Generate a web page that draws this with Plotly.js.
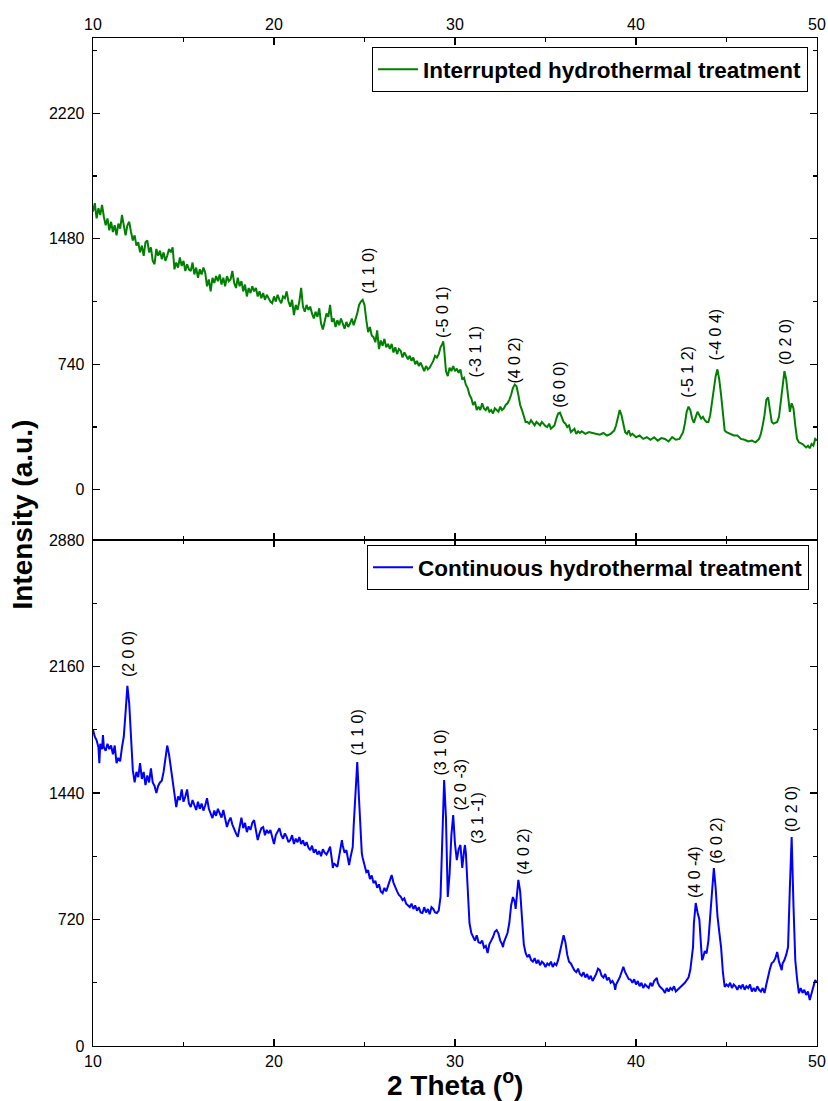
<!DOCTYPE html>
<html>
<head>
<meta charset="utf-8">
<script src="https://cdn.plot.ly/plotly-3.0.1.min.js"></script>
<style>html,body{margin:0;padding:0;background:#fff;}#chart{width:828px;height:1101px;}</style>
</head>
<body>
<div id="chart"></div>
<script>
// ---------- DATA (2 Theta in degrees, intensity in a.u.) ----------
const interruptedName = "Interrupted hydrothermal treatment";
const continuousName = "Continuous hydrothermal treatment";

const interruptedData = [
[10.0,1640],[10.1,1690],[10.2,1600],[10.3,1660],[10.4,1620],[10.5,1680],[10.6,1610],[10.7,1560],[10.8,1600],[10.9,1530],
[11.0,1580],[11.1,1520],[11.2,1560],[11.3,1500],[11.4,1570],[11.5,1540],[11.6,1620],[11.7,1550],[11.8,1500],[11.9,1560],
[12.0,1580],[12.1,1520],[12.2,1470],[12.3,1500],[12.4,1440],[12.5,1460],[12.6,1400],[12.7,1440],[12.8,1380],[12.9,1460],
[13.0,1470],[13.1,1400],[13.2,1430],[13.3,1350],[13.4,1330],[13.5,1420],[13.6,1380],[13.7,1410],[13.8,1360],[13.9,1400],
[14.0,1350],[14.1,1380],[14.2,1420],[14.3,1400],[14.4,1430],[14.5,1300],[14.6,1340],[14.7,1310],[14.8,1370],[14.9,1320],
[15.0,1350],[15.1,1290],[15.2,1330],[15.3,1300],[15.4,1290],[15.5,1340],[15.6,1270],[15.7,1310],[15.8,1250],[15.9,1300],
[16.0,1270],[16.1,1310],[16.2,1280],[16.3,1200],[16.4,1240],[16.5,1170],[16.6,1250],[16.7,1220],[16.8,1260],[16.9,1230],
[17.0,1270],[17.1,1210],[17.2,1250],[17.3,1200],[17.4,1260],[17.5,1230],[17.6,1240],[17.7,1290],[17.8,1220],[17.9,1190],
[18.0,1250],[18.1,1200],[18.2,1230],[18.3,1170],[18.4,1210],[18.5,1140],[18.6,1190],[18.7,1160],[18.8,1200],[18.9,1170],
[19.0,1190],[19.1,1140],[19.2,1170],[19.3,1130],[19.4,1160],[19.5,1120],[19.6,1150],[19.7,1130],[19.8,1110],[19.9,1100],
[20.0,1140],[20.1,1110],[20.2,1150],[20.3,1120],[20.4,1100],[20.5,1140],[20.6,1130],[20.7,1170],[20.8,1110],[20.9,1080],
[21.0,1120],[21.1,1030],[21.2,1090],[21.3,1060],[21.4,1110],[21.5,1190],[21.6,1080],[21.7,1050],[21.8,1090],[21.9,1060],
[22.0,1080],[22.1,1040],[22.2,1010],[22.3,1050],[22.4,1020],[22.5,1070],[22.6,980],[22.7,945],[22.8,1000],[22.9,1040],
[23.0,1020],[23.1,1090],[23.2,990],[23.3,1010],[23.4,960],[23.5,1000],[23.6,970],[23.7,1010],[23.8,980],[23.9,950],
[24.0,990],[24.1,960],[24.2,980],[24.3,1010],[24.4,970],[24.5,1000],[24.6,1040],[24.7,1090],[24.8,1110],[24.9,1120],
[25.0,1090],[25.1,1000],[25.2,930],[25.3,960],[25.4,910],[25.5,900],[25.6,870],[25.7,940],[25.8,830],[25.9,880],
[26.0,850],[26.1,890],[26.2,840],[26.3,860],[26.4,830],[26.5,860],[26.6,810],[26.7,840],[26.8,800],[26.9,830],
[27.0,820],[27.1,780],[27.2,810],[27.3,790],[27.4,770],[27.5,790],[27.6,760],[27.7,780],[27.8,740],[27.9,760],
[28.0,730],[28.1,750],[28.2,720],[28.3,700],[28.4,730],[28.5,710],[28.6,720],[28.7,740],[28.8,760],[28.9,790],
[29.0,780],[29.1,800],[29.2,840],[29.3,860],[29.35,875],[29.4,830],[29.5,700],[29.6,670],[29.7,720],[29.8,700],[29.9,730],
[30.0,700],[30.1,715],[30.2,690],[30.3,710],[30.4,650],[30.5,660],[30.6,620],[30.7,600],[30.8,560],[30.9,540],
[31.0,500],[31.1,520],[31.2,470],[31.3,490],[31.4,470],[31.5,510],[31.6,480],[31.7,470],[31.8,490],[31.9,460],
[32.0,470],[32.1,450],[32.2,480],[32.3,470],[32.4,460],[32.5,490],[32.6,470],[32.7,480],[32.8,500],[32.9,510],
[33.0,530],[33.1,560],[33.2,600],[33.3,620],[33.4,610],[33.5,560],[33.6,500],[33.7,470],[33.8,430],[33.9,400],
[34.0,400],[34.1,390],[34.2,410],[34.3,395],[34.4,380],[34.5,400],[34.6,390],[34.7,380],[34.8,400],[34.9,385],
[35.0,375],[35.1,370],[35.2,390],[35.3,360],[35.4,370],[35.5,380],[35.6,420],[35.7,450],[35.8,455],[35.9,430],
[36.0,400],[36.1,390],[36.2,370],[36.3,380],[36.4,340],[36.5,350],[36.6,360],[36.7,330],[36.8,345],[36.9,335],
[37.0,345],[37.2,330],[37.4,340],[37.6,335],[37.8,330],[38.0,325],[38.2,335],[38.4,320],[38.6,330],[38.8,350],
[38.9,380],[39.0,430],[39.1,470],[39.2,440],[39.3,380],[39.4,340],[39.5,330],[39.6,350],[39.7,320],[39.8,330],
[40.0,310],[40.2,320],[40.4,300],[40.6,310],[40.8,295],[41.0,310],[41.2,290],[41.4,305],[41.6,300],[41.8,285],
[42.0,310],[42.2,295],[42.4,300],[42.5,320],[42.6,340],[42.7,390],[42.8,460],[42.9,490],[43.0,470],[43.1,420],
[43.2,395],[43.3,430],[43.4,460],[43.5,440],[43.6,420],[43.7,430],[43.8,410],[43.9,400],[44.0,400],[44.1,440],
[44.2,510],[44.3,580],[44.4,670],[44.5,710],[44.6,650],[44.7,560],[44.8,430],[44.9,350],[45.0,340],[45.2,330],
[45.4,320],[45.6,320],[45.8,300],[46.0,295],[46.2,285],[46.4,290],[46.6,280],[46.8,300],[46.9,330],[47.0,380],
[47.1,440],[47.2,530],[47.3,545],[47.4,470],[47.5,400],[47.6,390],[47.7,395],[47.8,400],[47.9,430],[48.0,520],
[48.1,640],[48.2,700],[48.3,650],[48.4,540],[48.5,460],[48.6,510],[48.7,480],[48.8,380],[48.9,300],[49.0,280],
[49.2,270],[49.4,250],[49.5,260],[49.6,245],[49.7,270],[49.8,260],[49.9,300],[50.0,290]
];

const continuousData = [
[10.0,1800],[10.1,1760],[10.2,1740],[10.3,1700],[10.35,1610],[10.4,1720],[10.5,1690],[10.55,1770],[10.6,1700],[10.7,1680],
[10.8,1720],[10.9,1690],[11.0,1710],[11.1,1660],[11.2,1710],[11.3,1610],[11.4,1640],[11.5,1620],[11.6,1700],[11.7,1760],
[11.8,1900],[11.9,2050],[12.0,1950],[12.1,1720],[12.2,1570],[12.3,1500],[12.4,1560],[12.5,1530],[12.6,1610],[12.7,1520],
[12.8,1560],[12.9,1485],[13.0,1540],[13.1,1500],[13.2,1580],[13.3,1500],[13.4,1480],[13.5,1440],[13.6,1480],[13.7,1500],
[13.8,1510],[13.9,1560],[14.0,1640],[14.1,1710],[14.2,1660],[14.3,1580],[14.4,1500],[14.5,1445],[14.6,1360],[14.7,1420],
[14.8,1400],[14.9,1460],[15.0,1390],[15.1,1420],[15.2,1460],[15.3,1380],[15.4,1360],[15.5,1400],[15.6,1370],[15.7,1343],
[15.8,1390],[15.9,1350],[16.0,1380],[16.1,1340],[16.2,1370],[16.3,1410],[16.4,1350],[16.5,1320],[16.6,1297],[16.7,1340],
[16.8,1310],[16.9,1350],[17.0,1320],[17.1,1300],[17.2,1343],[17.3,1290],[17.4,1246],[17.5,1280],[17.6,1300],[17.7,1260],
[17.8,1230],[17.9,1210],[18.0,1190],[18.1,1250],[18.2,1300],[18.3,1240],[18.4,1270],[18.5,1217],[18.6,1250],[18.7,1230],
[18.8,1270],[18.9,1286],[19.0,1220],[19.1,1172],[19.2,1210],[19.3,1240],[19.4,1246],[19.5,1200],[19.6,1230],[19.7,1210],
[19.8,1230],[19.9,1190],[20.0,1150],[20.1,1200],[20.2,1220],[20.3,1240],[20.4,1200],[20.5,1180],[20.6,1210],[20.7,1190],
[20.8,1160],[20.9,1172],[21.0,1200],[21.1,1150],[21.2,1180],[21.3,1160],[21.4,1189],[21.5,1150],[21.6,1170],[21.7,1140],
[21.8,1160],[21.9,1130],[22.0,1115],[22.1,1140],[22.2,1100],[22.3,1120],[22.4,1090],[22.5,1110],[22.6,1080],[22.7,1120],
[22.8,1100],[22.9,1090],[23.0,1110],[23.1,1135],[23.2,1060],[23.25,1013],[23.3,1040],[23.4,1030],[23.5,1020],[23.6,1080],
[23.7,1130],[23.75,1172],[23.8,1140],[23.9,1100],[24.0,1115],[24.1,1060],[24.15,1030],[24.2,1060],[24.3,1100],[24.35,1133],
[24.4,1250],[24.5,1480],[24.6,1616],[24.7,1400],[24.8,1150],[24.85,1098],[24.9,1070],[25.0,1020],[25.1,990],[25.2,1000],
[25.3,950],[25.4,970],[25.5,927],[25.6,940],[25.7,900],[25.8,920],[25.9,880],[26.0,870],[26.1,900],[26.2,880],
[26.3,910],[26.4,950],[26.5,973],[26.6,930],[26.7,900],[26.8,880],[26.9,860],[27.0,850],[27.1,830],[27.2,840],
[27.3,810],[27.4,800],[27.5,791],[27.6,810],[27.7,780],[27.8,800],[27.9,770],[28.0,790],[28.1,760],[28.2,757],
[28.3,790],[28.4,760],[28.5,780],[28.6,750],[28.7,790],[28.8,780],[28.9,760],[29.0,757],[29.1,770],[29.2,848],
[29.3,1200],[29.4,1514],[29.5,1300],[29.6,848],[29.7,980],[29.8,1200],[29.9,1314],[30.0,1150],[30.1,1058],[30.2,1120],
[30.3,1144],[30.4,1013],[30.5,1110],[30.55,1144],[30.6,1100],[30.7,870],[30.8,700],[30.9,643],[31.0,620],[31.1,600],
[31.2,630],[31.3,590],[31.4,586],[31.5,600],[31.6,560],[31.7,570],[31.8,529],[31.9,580],[32.0,600],[32.1,620],
[32.2,650],[32.3,660],[32.4,640],[32.5,600],[32.6,580],[32.65,563],[32.7,590],[32.8,620],[32.9,643],[33.0,700],
[33.1,800],[33.2,848],[33.3,820],[33.35,780],[33.4,850],[33.5,945],[33.6,880],[33.7,700],[33.75,643],[33.8,580],
[33.9,530],[34.0,506],[34.1,520],[34.2,490],[34.3,480],[34.4,500],[34.5,470],[34.6,490],[34.7,460],[34.8,480],
[34.9,470],[35.0,450],[35.1,470],[35.2,460],[35.3,480],[35.4,450],[35.5,470],[35.6,460],[35.7,490],[35.8,540],
[35.9,600],[36.0,630],[36.1,590],[36.2,520],[36.3,480],[36.4,470],[36.5,450],[36.6,430],[36.7,420],[36.8,440],
[36.9,410],[37.0,400],[37.1,420],[37.2,390],[37.3,410],[37.4,380],[37.5,400],[37.6,370],[37.7,390],[37.8,410],
[37.9,440],[38.0,432],[38.1,400],[38.2,390],[38.3,410],[38.4,375],[38.5,390],[38.6,360],[38.7,370],[38.8,350],
[38.85,319],[38.9,350],[39.0,370],[39.1,390],[39.2,420],[39.3,450],[39.4,420],[39.5,400],[39.6,380],[39.7,378],
[39.8,360],[39.9,380],[40.0,350],[40.1,370],[40.2,340],[40.3,360],[40.4,330],[40.5,350],[40.6,340],[40.7,330],
[40.8,360],[40.9,340],[41.0,370],[41.1,380],[41.15,387],[41.2,360],[41.3,340],[41.4,330],[41.5,320],[41.6,302],
[41.7,330],[41.8,310],[41.9,330],[42.0,320],[42.1,340],[42.2,310],[42.3,319],[42.4,330],[42.5,340],[42.6,350],
[42.7,360],[42.8,375],[42.9,390],[43.0,432],[43.1,520],[43.15,563],[43.2,700],[43.3,814],[43.4,760],[43.5,720],
[43.6,560],[43.65,489],[43.7,500],[43.8,540],[43.9,527],[44.0,600],[44.1,740],[44.2,900],[44.3,1013],[44.4,900],
[44.5,740],[44.6,650],[44.7,563],[44.8,420],[44.9,336],[45.0,350],[45.1,340],[45.2,360],[45.3,330],[45.4,350],
[45.5,340],[45.6,320],[45.7,345],[45.8,330],[45.9,350],[46.0,320],[46.1,340],[46.2,330],[46.3,350],[46.4,310],
[46.5,330],[46.6,310],[46.7,340],[46.8,320],[46.9,310],[47.0,330],[47.1,302],[47.2,350],[47.3,400],[47.4,440],
[47.5,472],[47.6,480],[47.7,500],[47.8,535],[47.9,480],[48.0,450],[48.05,432],[48.1,470],[48.2,489],[48.3,520],
[48.4,563],[48.5,900],[48.6,1190],[48.7,800],[48.8,489],[48.9,380],[48.95,319],[49.0,300],[49.1,330],[49.2,302],
[49.3,320],[49.4,290],[49.5,310],[49.6,262],[49.7,300],[49.8,340],[49.9,375],[50.0,360]
];

// Peak (Miller index) labels: [2θ, intensity at label base, text]
const interruptedPeaks = [
[25.25,1144,"(1 1 0)"],[29.35,884,"(-5 0 1)"],[31.15,649,"(-3 1 1)"],[33.3,613,"(4 0 2)"],
[35.8,472,"(6 0 0)"],[42.87,531,"(-5 1 2)"],[44.4,749,"(-4 0 4)"],[48.3,725,"(0 2 0)"]
];
const continuousPeaks = [
[11.93,2088,"(2 0 0)"],[24.6,1644,"(1 1 0)"],[29.2,1525,"(3 1 0)"],[30.3,1331,"(2 0 -3)"],
[31.2,1138,"(3 1 -1)"],[33.8,962,"(4 0 2)"],[43.26,831,"(4 0 -4)"],[44.4,1024,"(6 0 2)"],[48.56,1206,"(0 2 0)"]
];

const xTicks = [10, 20, 30, 40, 50];
const topYTicks = [0, 740, 1480, 2220];
const bottomYTicks = [0, 720, 1440, 2160, 2880];

// ---------- FIGURE ----------
const FONT = "Liberation Sans, Arial, Helvetica, sans-serif";

const traces = [
  {
    x: interruptedData.map(p => p[0]), y: interruptedData.map(p => p[1]),
    type: "scatter", mode: "lines", name: "<b>" + interruptedName + "</b>",
    line: {color: "#008000", width: 2}, xaxis: "x2", yaxis: "y2", legend: "legend"
  },
  {
    x: continuousData.map(p => p[0]), y: continuousData.map(p => p[1]),
    type: "scatter", mode: "lines", name: "<b>" + continuousName + "</b>",
    line: {color: "#0000FF", width: 2}, xaxis: "x", yaxis: "y", legend: "legend2"
  }
];

const axisCommon = {
  showline: true, linecolor: "#000", linewidth: 1.3, mirror: "allticks",
  ticks: "inside", ticklen: 7, tickwidth: 1.3, tickcolor: "#000",
  showgrid: false, zeroline: false,
  tickfont: {family: FONT, size: 16, color: "#000"}
};

const annotations = [];
interruptedPeaks.forEach(p => annotations.push({
  x: p[0], y: p[1], xref: "x2", yref: "y2", text: p[2], showarrow: false,
  textangle: -90, xanchor: "center", yanchor: "bottom",
  font: {family: FONT, size: 16, color: "#000"}
}));
continuousPeaks.forEach(p => annotations.push({
  x: p[0], y: p[1], xref: "x", yref: "y", text: p[2], showarrow: false,
  textangle: -90, xanchor: "center", yanchor: "bottom",
  font: {family: FONT, size: 16, color: "#000"}
}));
annotations.push({
  xref: "paper", yref: "paper", x: -0.097, y: 0.527, text: "<b>Intensity (a.u.)</b>",
  textangle: -90, showarrow: false, xanchor: "center", yanchor: "middle",
  font: {family: FONT, size: 28, color: "#000"}
});
annotations.push({
  xref: "paper", yref: "paper", x: 0.5, y: -0.037, text: "<b>2 Theta (<sup>o</sup>)</b>",
  showarrow: false, xanchor: "center", yanchor: "middle",
  font: {family: FONT, size: 28, color: "#000"}
});

const layout = {
  width: 828, height: 1101,
  margin: {l: 93, r: 11, t: 38, b: 55, pad: 0},
  paper_bgcolor: "#fff", plot_bgcolor: "#fff",
  font: {family: FONT, color: "#000"},
  showlegend: true,
  xaxis: Object.assign({}, axisCommon, {
    domain: [0, 1], range: [10, 50], anchor: "y",
    tickmode: "array", tickvals: xTicks,
    minor: {ticks: "inside", dtick: 5, tick0: 10, ticklen: 4, tickwidth: 1.3, tickcolor: "#000"}
  }),
  yaxis: Object.assign({}, axisCommon, {
    domain: [0, 0.502], range: [0, 2880], anchor: "x",
    tickmode: "array", tickvals: bottomYTicks, ticklabelstandoff: 4,
    minor: {ticks: "inside", dtick: 360, tick0: 0, ticklen: 4, tickwidth: 1.3, tickcolor: "#000"}
  }),
  xaxis2: Object.assign({}, axisCommon, {
    domain: [0, 1], range: [10, 50], anchor: "y2", side: "top",
    tickmode: "array", tickvals: xTicks,
    minor: {ticks: "inside", dtick: 5, tick0: 10, ticklen: 4, tickwidth: 1.3, tickcolor: "#000"}
  }),
  yaxis2: Object.assign({}, axisCommon, {
    domain: [0.502, 1], range: [-296, 2664], anchor: "x2",
    tickmode: "array", tickvals: topYTicks, ticklabelstandoff: 4,
    minor: {ticks: "inside", dtick: 370, tick0: 0, ticklen: 4, tickwidth: 1.3, tickcolor: "#000"}
  }),
  legend: {
    x: 0.9876, y: 0.991, xanchor: "right", yanchor: "top",
    bordercolor: "#000", borderwidth: 1, bgcolor: "#fff",
    font: {family: FONT, size: 22.5, color: "#000"}, itemwidth: 40
  },
  legend2: {
    x: 0.989, y: 0.497, xanchor: "right", yanchor: "top",
    bordercolor: "#000", borderwidth: 1, bgcolor: "#fff",
    font: {family: FONT, size: 22.5, color: "#000"}, itemwidth: 40
  },
  annotations: annotations
};

Plotly.newPlot("chart", traces, layout, {displayModeBar: false, staticPlot: true});
</script>
</body>
</html>
